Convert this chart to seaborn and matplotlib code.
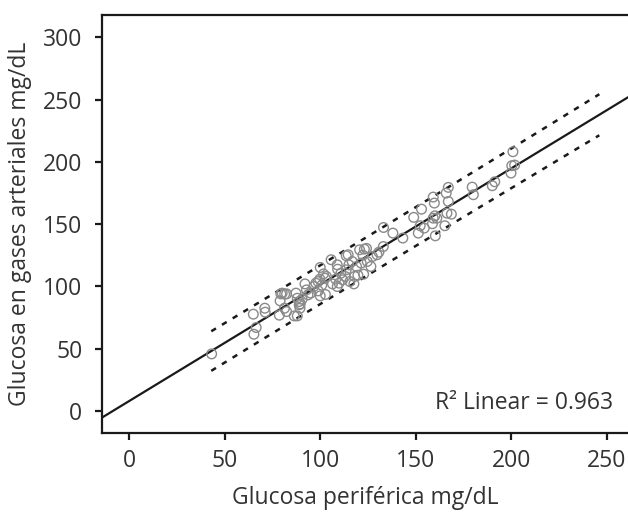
import numpy as np
import pandas as pd
import matplotlib
matplotlib.use("Agg")
import matplotlib.pyplot as plt
import seaborn as sns

# glucose readings (peripheral vs arterial blood gas)
periferica = [43.2, 65.0, 65.3, 66.5, 71.0, 71.2, 78.6, 79.0, 79.4, 80.1,
              81.4, 82.4, 81.3, 82.4, 86.4, 88.0, 87.3, 88.0, 89.0, 89.0,
              89.4, 89.6, 90.5, 92.0, 92.8, 93.6, 95.0, 96.6, 97.7, 98.9,
              99.0, 100.0, 99.8, 100.0, 100.8, 102.5, 102.7, 103.2, 105.7, 106.4,
              108.1, 108.9, 109.1, 108.9, 109.8, 110.8, 111.7, 113.0, 113.6, 114.6,
              115.0, 115.5, 116.7, 117.6, 118.0, 119.0, 119.7, 120.6, 121.4, 122.3,
              122.7, 123.1, 124.2, 124.6, 126.5, 127.3, 129.7, 130.7, 133.0, 133.1,
              138.0, 143.2, 148.9, 151.3, 152.3, 153.0, 154.4, 159.1, 159.7, 159.1,
              158.7, 160.2, 161.0, 160.0, 165.2, 165.9, 167.0, 167.0, 166.3, 168.6,
              179.5, 180.1, 190.0, 191.3, 200.8, 199.8, 200.2, 201.7, 101.7, 113.6]
arterial = [45.8, 77.7, 61.6, 67.0, 82.5, 79.3, 76.9, 88.4, 94.0, 94.6,
            93.8, 94.0, 82.5, 79.8, 76.3, 76.3, 94.6, 90.5, 87.9, 85.2,
            82.5, 86.0, 89.7, 102.0, 97.2, 93.2, 94.6, 99.9, 102.6, 103.9,
            96.4, 115.2, 105.8, 92.4, 101.0, 106.6, 93.5, 108.0, 121.4, 102.0,
            105.8, 117.3, 113.8, 99.9, 102.6, 110.6, 105.3, 108.0, 124.6, 125.4,
            117.3, 103.9, 120.0, 102.0, 108.0, 116.0, 109.0, 129.4, 118.7, 125.1,
            109.8, 129.9, 130.5, 120.0, 116.0, 124.0, 125.4, 127.5, 132.0, 147.3,
            142.8, 138.8, 155.4, 142.8, 148.7, 162.0, 146.8, 171.7, 166.9, 154.8,
            150.3, 140.6, 154.8, 156.7, 148.7, 174.9, 179.5, 168.2, 158.8, 158.0,
            179.7, 173.6, 180.8, 184.0, 208.1, 191.0, 196.9, 197.4, 110.0, 113.3]

x_ticks = [0, 50, 100, 150, 200, 250]
y_ticks = [0, 50, 100, 150, 200, 250, 300]
pi_span = [43, 246]   # x range SPSS drew the prediction band over
r2_label = 0.963      # value printed on the original chart

df = pd.DataFrame({"periferica": periferica, "arterial": arterial})

# linear fit + 95% prediction interval for individual values
x = df["periferica"].to_numpy()
y = df["arterial"].to_numpy()
slope, intercept = np.polyfit(x, y, 1)
resid = y - (intercept + slope * x)
n = len(x)
s = np.sqrt(np.sum(resid ** 2) / (n - 2))
sxx = np.sum((x - x.mean()) ** 2)
xg = np.linspace(pi_span[0], pi_span[1], 100)
yg = intercept + slope * xg
half = 1.984 * s * np.sqrt(1 + 1 / n + (xg - x.mean()) ** 2 / sxx)

sns.set_style("ticks")
plt.rcParams["font.family"] = ["Open Sans", "DejaVu Sans"]
text_col = "#333333"
fs = 16.5

fig = plt.figure(figsize=(6.28, 5.12), dpi=100)
ax = fig.add_axes([0.162, 0.155, 0.838, 0.816])
ax.set_xlim(-14.3, 261)
ax.set_ylim(-17.4, 318)

sns.scatterplot(data=df, x="periferica", y="arterial", ax=ax, s=48,
                facecolors="none", edgecolor="#8a8a8a", linewidth=1.0,
                zorder=3)
sns.regplot(data=df, x="periferica", y="arterial", ax=ax, scatter=False,
            ci=None, truncate=False, line_kws={"color": "#1a1a1a", "lw": 1.6})
ax.plot(xg, yg + half, color="#1a1a1a", lw=1.8, dashes=(2.2, 2.8))
ax.plot(xg, yg - half, color="#1a1a1a", lw=1.8, dashes=(2.2, 2.8))
ax.set_xlim(-14.3, 261)

ax.set_xticks(x_ticks)
ax.set_yticks(y_ticks)
ax.tick_params(axis="both", length=5, width=1.6, color="#1a1a1a",
               labelsize=fs, labelcolor=text_col)
ax.tick_params(axis="x", pad=7)
ax.tick_params(axis="y", pad=9)
for side in ["left", "bottom", "top"]:
    ax.spines[side].set_linewidth(1.6)
    ax.spines[side].set_color("#1a1a1a")
ax.spines["right"].set_visible(False)

ax.set_xlabel("Glucosa periférica mg/dL", fontsize=fs, color=text_col, labelpad=9)
ax.set_ylabel("Glucosa en gases arteriales mg/dL", fontsize=fs, color=text_col, labelpad=8)
ax.text(0.972, 0.071, f"R² Linear = {r2_label:.3f}",
        transform=ax.transAxes, ha="right", va="center", fontsize=fs, color=text_col)

fig.savefig("out.png", dpi=100)
